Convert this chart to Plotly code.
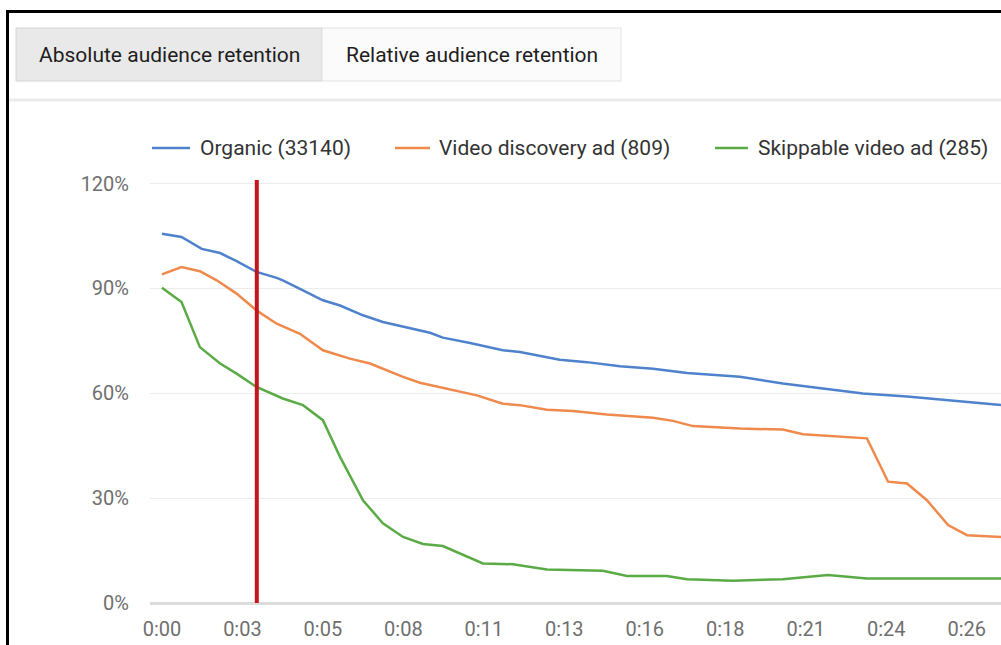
import plotly.graph_objects as go

# ---------------- data ----------------
series_names = ["Organic (33140)", "Video discovery ad (809)", "Skippable video ad (285)"]
series_colors = ["#4f82cc", "#ef8a4c", "#5aab45"]

organic_t = [0.0, 0.64, 1.30, 1.90, 2.44, 3.09, 3.75, 3.95, 4.61, 5.26, 5.82, 6.57, 7.22, 7.88,
             8.76, 9.18, 10.07, 11.14, 11.70, 13.0, 13.89, 14.97, 16.05, 17.16, 17.9, 18.89,
             20.29, 21.73, 22.91, 24.35, 25.75, 27.42]
organic_v = [105.6, 104.7, 101.3, 100.1, 97.8, 94.7, 93.0, 92.3, 89.4, 86.6, 85.1, 82.3, 80.4, 79.1,
             77.3, 75.9, 74.4, 72.3, 71.8, 69.6, 68.9, 67.7, 67.0, 65.8, 65.4, 64.7,
             62.8, 61.3, 59.9, 59.1, 58.0, 56.6]

discovery_t = [0.0, 0.64, 1.24, 1.79, 2.44, 3.09, 3.75, 4.51, 5.26, 6.14, 6.80, 7.88, 8.43, 9.51,
               10.29, 11.14, 11.70, 12.58, 13.43, 14.54, 16.05, 16.70, 17.35, 18.89, 20.29, 20.95,
               21.93, 23.04, 23.73, 24.35, 25.0, 25.69, 26.31, 27.42]
discovery_v = [94.0, 96.1, 94.9, 92.3, 88.5, 83.7, 79.9, 77.0, 72.3, 69.9, 68.5, 64.7, 63.0, 61.0,
               59.4, 57.0, 56.6, 55.3, 54.9, 53.9, 53.0, 52.1, 50.6, 49.9, 49.6, 48.3,
               47.7, 47.1, 34.7, 34.2, 29.4, 22.3, 19.4, 18.9]

skippable_t = [0.0, 0.64, 1.24, 1.90, 2.44, 3.09, 3.95, 4.61, 5.26, 5.82, 6.57, 7.22, 7.88, 8.53,
               9.18, 10.49, 11.47, 12.58, 14.41, 15.20, 16.50, 17.16, 18.66, 20.29, 21.76, 23.04, 27.42]
skippable_v = [90.2, 86.1, 73.2, 68.5, 65.6, 61.8, 58.5, 56.6, 52.3, 41.8, 29.4, 22.8, 18.9, 16.9,
               16.3, 11.3, 11.1, 9.6, 9.2, 7.7, 7.7, 6.8, 6.4, 6.8, 8.0, 7.0, 7.0]

tick_seconds = [0, 2.63, 5.26, 7.89, 10.52, 13.15, 15.78, 18.41, 21.04, 23.67, 26.3]
tick_labels = ["0:00", "0:03", "0:05", "0:08", "0:11", "0:13", "0:16", "0:18", "0:21", "0:24", "0:26"]
y_ticks = [0, 30, 60, 90, 120]
y_tick_labels = ["0%", "30%", "60%", "90%", "120%"]
marker_time = 3.1
tab_labels = ["Absolute audience retention", "Relative audience retention"]

# ---------------- layout geometry ----------------
W, H = 1001, 645
L, R, T, B = 150, 0, 180, 42
FONT = "Roboto, Arial, sans-serif"


def px(x):
    return (x - L) / (W - L - R)


def py(y):
    return (H - B - y) / (H - T - B)


fig = go.Figure()
series = [(organic_t, organic_v), (discovery_t, discovery_v), (skippable_t, skippable_v)]
for (t, v), name, color in zip(series, series_names, series_colors):
    fig.add_trace(go.Scatter(x=t, y=v, mode="lines", name=name,
                             line=dict(color=color, width=2.5), showlegend=False))

shapes = []
annotations = []

# outer black frame (only left/top edges visible)
shapes.append(dict(type="rect", xref="paper", yref="paper", x0=px(7.5), x1=px(1030),
                   y0=py(11.5), y1=py(700), line=dict(color="#000000", width=3), layer="above"))
# tabs
shapes.append(dict(type="rect", xref="paper", yref="paper", x0=px(16), x1=px(322),
                   y0=py(28), y1=py(81), fillcolor="#e9e9e9", line=dict(color="#d3d3d3", width=1)))
shapes.append(dict(type="rect", xref="paper", yref="paper", x0=px(322), x1=px(621),
                   y0=py(28), y1=py(81), fillcolor="#fbfbfb", line=dict(color="#e3e3e3", width=1)))
annotations.append(dict(xref="paper", yref="paper", x=px(169), y=py(55), text=tab_labels[0],
                        showarrow=False, xanchor="center", yanchor="middle",
                        font=dict(family=FONT, size=21, color="#1e1e1e")))
annotations.append(dict(xref="paper", yref="paper", x=px(472), y=py(55), text=tab_labels[1],
                        showarrow=False, xanchor="center", yanchor="middle",
                        font=dict(family=FONT, size=21, color="#1e1e1e")))
# separator under tabs
shapes.append(dict(type="line", xref="paper", yref="paper", x0=px(9), x1=px(1001),
                   y0=py(100), y1=py(100), line=dict(color="#ebebeb", width=3)))

# manual legend
legend_line_x = [(152, 190), (395, 430), (715, 748)]
legend_text_x = [198, 437, 756]
for (x0, x1), tx, name, color in zip(legend_line_x, legend_text_x, series_names, series_colors):
    shapes.append(dict(type="line", xref="paper", yref="paper", x0=px(x0), x1=px(x1),
                       y0=py(148), y1=py(148), line=dict(color=color, width=2.5)))
    annotations.append(dict(xref="paper", yref="paper", x=px(tx), y=py(148), text=name,
                            showarrow=False, xanchor="left", yanchor="middle",
                            font=dict(family=FONT, size=21, color="#333333")))

# red marker line
shapes.append(dict(type="line", xref="x", yref="paper", x0=marker_time, x1=marker_time,
                   y0=0, y1=1, line=dict(color="#c3161e", width=4), layer="above"))

fig.update_layout(
    width=W, height=H,
    margin=dict(l=L, r=R, t=T, b=B, pad=0),
    paper_bgcolor="#ffffff", plot_bgcolor="#ffffff",
    showlegend=False,
    hovermode=False,
    shapes=shapes, annotations=annotations,
    xaxis=dict(range=[-0.39, 27.42], tickvals=tick_seconds, ticktext=tick_labels,
               showgrid=False, zeroline=False, showline=False, ticks="",
               ticklabelstandoff=12,
               tickfont=dict(family=FONT, size=20, color="#6f6f6f")),
    yaxis=dict(range=[0, 121], tickvals=y_ticks, ticktext=y_tick_labels,
               showgrid=True, gridcolor="#ececec", gridwidth=1,
               zeroline=True, zerolinecolor="#dcdcdc", zerolinewidth=3,
               showline=False, ticks="", ticklabelstandoff=20,
               tickfont=dict(family=FONT, size=20, color="#6f6f6f")),
)

fig.write_html("out.html", config={"displayModeBar": False, "staticPlot": True},
               post_script="document.body.style.margin='0';document.body.style.overflow='hidden';")
